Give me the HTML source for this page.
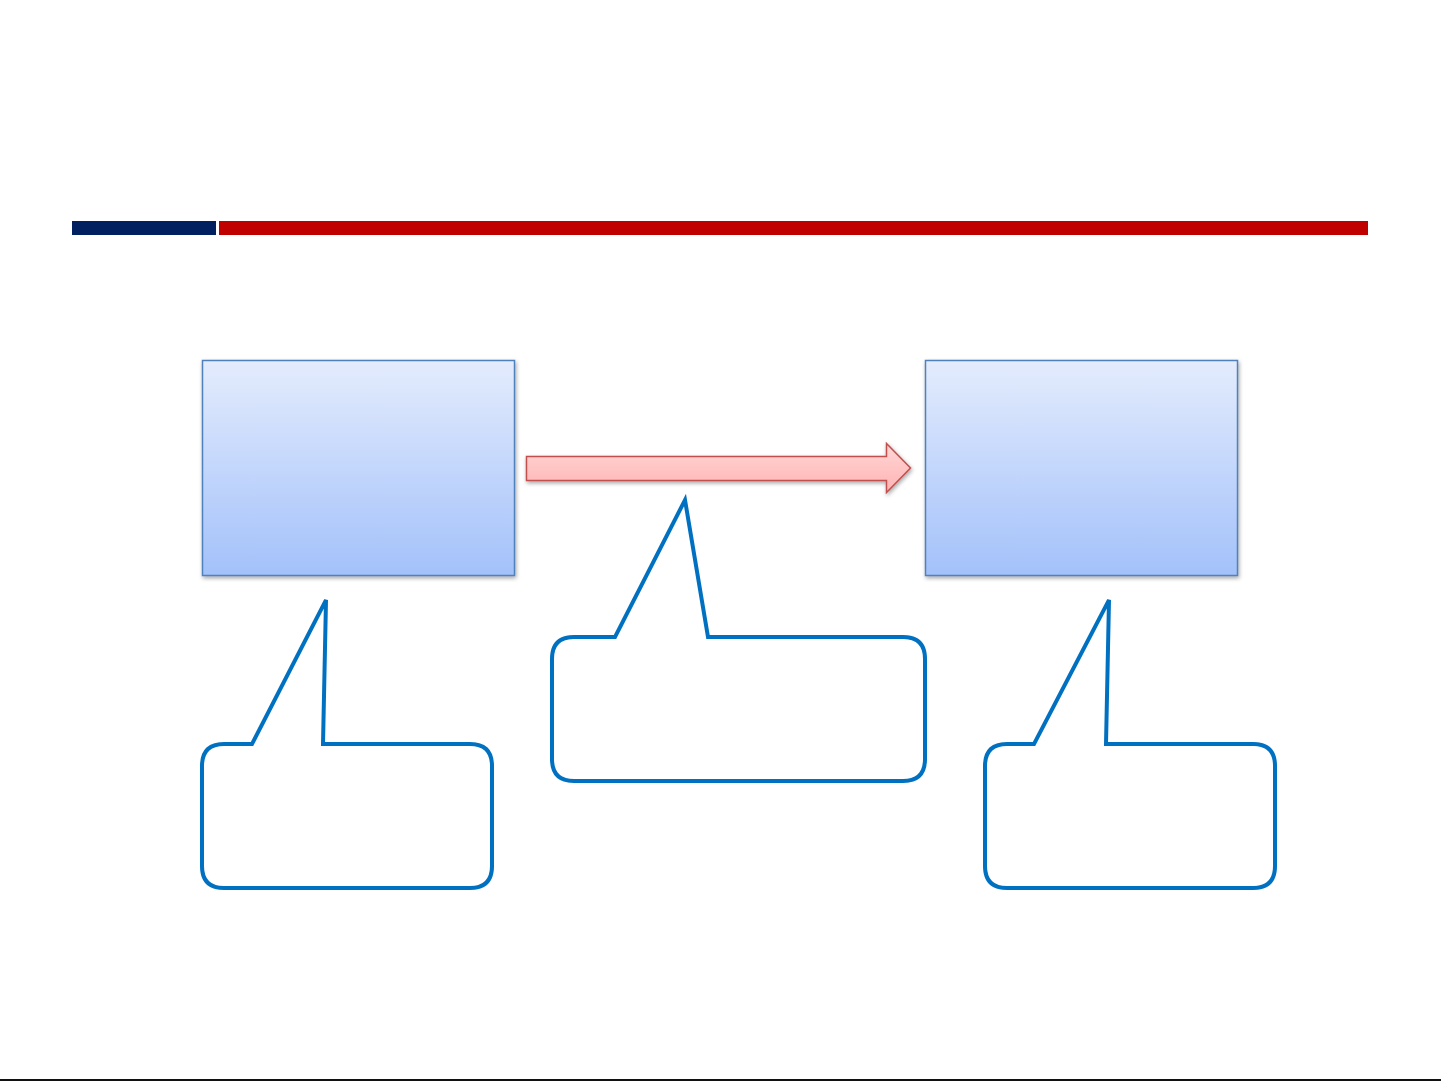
<!DOCTYPE html>
<html><head><style>
html,body{margin:0;padding:0;background:#fff;width:1441px;height:1081px;overflow:hidden}
</style></head><body>
<svg width="1441" height="1081" xmlns="http://www.w3.org/2000/svg">
<defs>
<linearGradient id="bg" x1="0" y1="0" x2="0" y2="1">
<stop offset="0" stop-color="#e4ecfd"/><stop offset="1" stop-color="#a3c1fa"/></linearGradient>
<linearGradient id="rg" x1="0" y1="0" x2="0" y2="1">
<stop offset="0" stop-color="#ffd6d6"/><stop offset="1" stop-color="#ffb3b3"/></linearGradient>
<filter id="sh" x="-10%" y="-10%" width="120%" height="130%"><feDropShadow dx="1" dy="2" stdDeviation="2" flood-opacity="0.35"/></filter>
</defs>
<rect x="72" y="221" width="144" height="14" fill="#002060"/>
<rect x="219" y="221" width="1149" height="14" fill="#C00000"/>
<rect x="202.5" y="360.5" width="312" height="215" fill="url(#bg)" stroke="#4f81bd" stroke-width="1.5" filter="url(#sh)"/>
<rect x="925.5" y="360.5" width="312" height="215" fill="url(#bg)" stroke="#4f81bd" stroke-width="1.5" filter="url(#sh)"/>
<path d="M526.5 456.5 H886.5 V443.5 L910.5 468 L886.5 492.5 V480.5 H526.5 Z" fill="url(#rg)" stroke="#c0504d" stroke-width="1.5" filter="url(#sh)"/>
<g fill="#fff" stroke="#0070C0" stroke-width="4" stroke-linejoin="miter">
<path d="M252 744 L326 600 L323 744 H470 Q492 744 492 766 V866 Q492 888 470 888 H224 Q202 888 202 866 V766 Q202 744 224 744 Z"/>
<path d="M615 637 L685 500 L708 637 H903 Q925 637 925 659 V759 Q925 781 903 781 H574 Q552 781 552 759 V659 Q552 637 574 637 Z"/>
<path d="M1034 744 L1109 600 L1106 744 H1253 Q1275 744 1275 766 V866 Q1275 888 1253 888 H1007 Q985 888 985 866 V766 Q985 744 1007 744 Z"/>
</g>
<rect x="0" y="1079" width="1441" height="2" fill="#111"/>
</svg>
</body></html>
